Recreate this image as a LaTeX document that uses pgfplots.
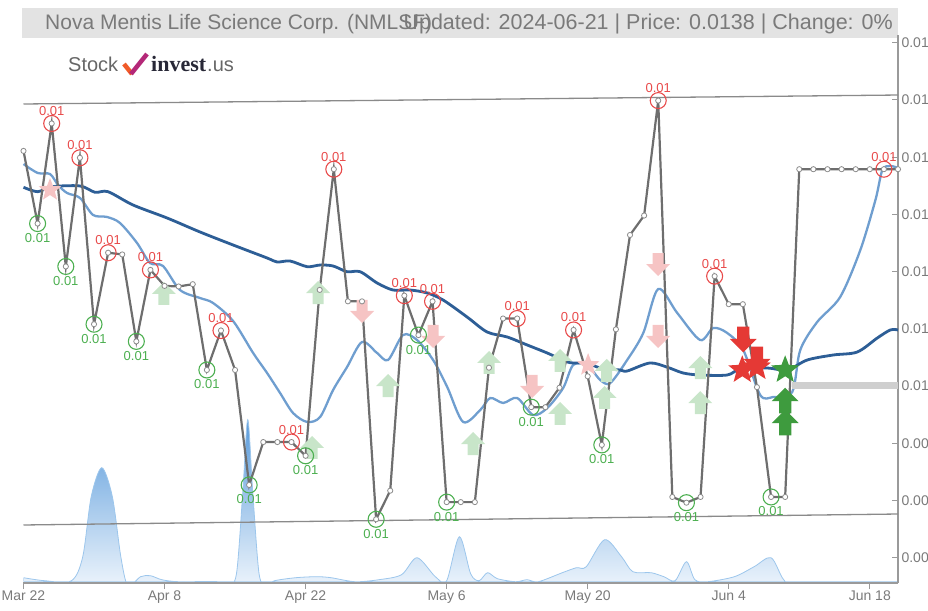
\documentclass[border=0pt]{standalone}
\usepackage{pgfplots}
\pgfplotsset{compat=1.18}
\usepackage{fontspec}
\setmainfont{Liberation Sans}
\newfontfamily\serifb{Liberation Serif}

\definecolor{pricec}{HTML}{6E6E6E}
\definecolor{madark}{HTML}{2D5E96}
\definecolor{malight}{HTML}{6F9ECF}
\definecolor{trendc}{HTML}{8A8A8A}
\definecolor{volline}{HTML}{9CC6EC}
\definecolor{voltop}{HTML}{5A9BDB}
\definecolor{volbot}{HTML}{EEF5FC}
\definecolor{redc}{HTML}{E84A4A}
\definecolor{greenc}{HTML}{4CAF50}
\definecolor{fadegreen}{HTML}{C8E5C9}
\definecolor{fadered}{HTML}{F6C4C4}
\definecolor{boldred}{HTML}{E53935}
\definecolor{boldgreen}{HTML}{3E9B3E}
\definecolor{axisc}{HTML}{9A9A9A}
\definecolor{labc}{HTML}{7A7A7A}
\definecolor{titlec}{HTML}{7A7A7A}
\definecolor{barc}{HTML}{E3E3E3}
\definecolor{gbar}{HTML}{CFCFCF}

\pgfdeclareplotmark{uparr}{%
 \pgfpathmoveto{\pgfqpoint{0pt}{11pt}}%
 \pgfpathlineto{\pgfqpoint{12pt}{-1pt}}%
 \pgfpathlineto{\pgfqpoint{5.5pt}{-1pt}}%
 \pgfpathlineto{\pgfqpoint{5.5pt}{-12pt}}%
 \pgfpathlineto{\pgfqpoint{-5.5pt}{-12pt}}%
 \pgfpathlineto{\pgfqpoint{-5.5pt}{-1pt}}%
 \pgfpathlineto{\pgfqpoint{-12pt}{-1pt}}%
 \pgfpathclose\pgfusepathqfill}
\pgfdeclareplotmark{dnarr}{%
 \pgfpathmoveto{\pgfqpoint{0pt}{-11pt}}%
 \pgfpathlineto{\pgfqpoint{12pt}{1pt}}%
 \pgfpathlineto{\pgfqpoint{5.5pt}{1pt}}%
 \pgfpathlineto{\pgfqpoint{5.5pt}{12pt}}%
 \pgfpathlineto{\pgfqpoint{-5.5pt}{12pt}}%
 \pgfpathlineto{\pgfqpoint{-5.5pt}{1pt}}%
 \pgfpathlineto{\pgfqpoint{-12pt}{1pt}}%
 \pgfpathclose\pgfusepathqfill}
\pgfdeclareplotmark{fstar}{%
 \pgfpathmoveto{\pgfpointpolar{90}{14pt}}%
 \pgfpathlineto{\pgfpointpolar{126}{6pt}}%
 \pgfpathlineto{\pgfpointpolar{162}{14pt}}%
 \pgfpathlineto{\pgfpointpolar{198}{6pt}}%
 \pgfpathlineto{\pgfpointpolar{234}{14pt}}%
 \pgfpathlineto{\pgfpointpolar{270}{6pt}}%
 \pgfpathlineto{\pgfpointpolar{306}{14pt}}%
 \pgfpathlineto{\pgfpointpolar{342}{6pt}}%
 \pgfpathlineto{\pgfpointpolar{18}{14pt}}%
 \pgfpathlineto{\pgfpointpolar{54}{6pt}}%
 \pgfpathclose\pgfusepathqfill}

\begin{document}
\begin{tikzpicture}
% title bar
\fill[barc] (22pt,572pt) rectangle (898pt,602pt);
\node[anchor=base west, inner sep=0pt, text=titlec, font=\fontsize{21}{24}\selectfont] at (45pt,580pt) {Nova Mentis Life Science Corp. (NMLSF)};
\node[anchor=base east, inner sep=0pt, text=titlec, font=\fontsize{21.5}{24}\selectfont] at (893pt,580pt) {Updated: 2024-06-21 | Price: 0.0138 | Change: 0\%};
% logo
\node[anchor=base west, inner sep=0pt, text=black!60, font=\fontsize{20}{22}\selectfont] at (68pt,538pt) {Stock};
\draw[line width=4.5pt, color={rgb,255:red,240;green,90;blue,40}] (124pt,546pt) -- (132pt,536pt);
\draw[line width=4.5pt, color={rgb,255:red,180;green,40;blue,120}] (131pt,536pt) -- (147pt,556pt);
\node[anchor=base west, inner sep=0pt, text={rgb,255:red,40;green,40;blue,55}, font=\serifb\bfseries\fontsize{22}{24}\selectfont] at (151pt,538pt) {invest};
\node[anchor=base west, inner sep=0pt, text=black!60, font=\fontsize{20}{22}\selectfont] at (207pt,538pt) {.us};

% volume
\begin{axis}[at={(23.5pt,27pt)}, anchor=south west, scale only axis,
 width=874.5pt, height=548pt, xmin=0, xmax=62, ymin=-1.3, ymax=546.7, hide axis]
\addplot[smooth, draw=volline, line width=0.8pt, top color=voltop, bottom color=volbot] coordinates {
(0,4) (1.5,1) (3.4,1) (4.2,25) (4.8,85) (5.55,114) (6.3,85) (6.9,25) (7.4,-4) (8.3,5) (9.0,6) (9.8,2) (11,0)
(13.8,0) (14.5,-4) (15.1,8) (15.55,90) (15.9,162) (16.25,90) (16.7,8) (17.2,-3) (17.8,1) (19.3,4) (20.8,5)
(21.8,4) (23.5,0) (25.2,2) (26.8,7) (27.9,24) (29.2,5) (30.0,1) (30.9,45) (31.7,8) (32.3,1) (32.9,9) (33.6,3)
(34.9,0) (35.7,2) (36.5,0) (38.2,9) (39.2,14) (39.9,15) (41.2,42) (42.4,25) (43.2,10) (44.5,9) (45.4,5)
(46.2,1) (47,20) (47.6,2) (48.5,0) (50.4,5) (51.8,15) (53,24) (53.9,2) (54.8,0) (62,0)} \closedcycle;
\end{axis}

\begin{axis}[at={(23.5pt,27pt)}, anchor=south west, scale only axis,
 width=874.5pt, height=548pt, xmin=0, xmax=62, ymin=0.0065559, ymax=0.0161364,
 clip=false, scaled y ticks=false,
 axis x line*=bottom, axis y line*=right,
 axis line style={axisc, line width=1.3pt},
 tick align=inside, major tick length=6pt,
 tick style={axisc, line width=1pt},
 xtick style={yshift=-6pt},
 xtick={0,10,20,30,40,50,60},
 xticklabels={Mar 22,Apr 8,Apr 22,May 6,May 20,Jun 4,Jun 18},
 ytick={0.007,0.008,0.009,0.010,0.011,0.012,0.013,0.014,0.015,0.016},
 yticklabels={0.007,0.008,0.009,0.010,0.011,0.012,0.013,0.014,0.015,0.016},
 tick label style={font=\fontsize{14}{16}\selectfont, text=labc},
 xticklabel style={yshift=-4pt},
]
% trend lines
\addplot[trendc, line width=1.3pt] coordinates {(0,0.014930) (62,0.015087)};
\addplot[trendc, line width=1.3pt] coordinates {(0,0.007570) (62,0.007762)};
% faded signals
\addplot[only marks, mark=uparr, color=fadegreen] coordinates {
(9.96,0.011626) (20.89,0.011643) (20.46,0.008934) (25.85,0.010017) (31.88,0.009003) (33.01,0.010420)
(38.05,0.009528) (38.05,0.010455) (41.2,0.009808) (41.35,0.010280) (47.98,0.010332) (47.98,0.009720)};
\addplot[only marks, mark=dnarr, color=fadered] coordinates {
(24.0,0.011294) (29.04,0.010857) (36.06,0.009983) (45.0,0.012115) (45.0,0.010857)};
\addplot[only marks, mark=fstar, color=fadered, mark options={scale=0.85}] coordinates {
(1.88,0.013427) (40.03,0.010367)};
% moving averages
\addplot[malight, line width=2.3pt, smooth] coordinates {
(0,0.013881) (1.01,0.013724) (1.88,0.013706) (2.45,0.013514) (3.09,0.013374) (4.01,0.013287) (4.93,0.012990)
(5.92,0.012955) (6.84,0.012850) (8.05,0.012500) (8.97,0.012150) (9.89,0.012098) (11.1,0.011678) (12.52,0.011538)
(13.44,0.011451) (14.86,0.011136) (16.28,0.010577) (17.27,0.010227) (18.19,0.009878) (19.11,0.009528)
(20.11,0.009371) (21.03,0.009458) (21.95,0.009930) (22.94,0.010332) (24.0,0.010769) (25.07,0.010577)
(25.85,0.010455) (26.91,0.010892) (27.9,0.010804) (29.04,0.010455) (30.04,0.009983) (31.17,0.009371)
(32.38,0.009580) (33.09,0.009790) (34.01,0.009703) (35.0,0.009790) (36.13,0.009493) (37.13,0.009615)
(38.26,0.009965) (38.97,0.010367) (39.96,0.010367) (40.89,0.010105) (41.6,0.010052) (42.8,0.010455)
(43.94,0.010927) (45.0,0.011696) (46.35,0.011276) (47.97,0.010804) (48.9,0.011014) (49.89,0.010927)
(51.03,0.010629) (52.23,0.009843) (53.16,0.009808) (54.5,0.009895) (55.07,0.010629) (56.27,0.011119)
(57.9,0.011556) (59.33,0.012378) (60.4,0.013252) (60.89,0.013776) (61.45,0.013846) (62,0.013811)};
\addplot[madark, line width=2.8pt, smooth] coordinates {
(0,0.013474) (1.01,0.013397) (2.0,0.013484) (4.01,0.013497) (5.07,0.013386) (5.99,0.013397) (7.77,0.013164)
(10.18,0.012937) (12.52,0.012692) (14.86,0.012465) (17.27,0.012238) (17.98,0.012168) (18.9,0.012185)
(20.11,0.012086) (21.03,0.012115) (21.95,0.012098) (22.94,0.011998) (23.87,0.011998) (25.07,0.011801)
(26.2,0.011678) (27.41,0.011678) (28.62,0.011626) (29.75,0.011503) (31.45,0.011206) (32.87,0.010944)
(34.29,0.010857) (35.71,0.010717) (37.13,0.010577) (38.55,0.010420) (39.26,0.010402) (39.96,0.010402)
(40.89,0.010315) (42.3,0.010280) (42.8,0.010262) (44.4,0.010402) (45.6,0.010332) (46.77,0.010227)
(47.97,0.010192) (49.89,0.010192) (50.82,0.010297) (52.73,0.010315) (54.15,0.010280) (55.57,0.010455)
(57.41,0.010542) (59.11,0.010594) (60.53,0.010839) (61.45,0.010979) (62,0.010979)};
% grey bar
\addplot[gbar, line width=7pt] coordinates {(54.5,0.0100) (62,0.0100)};
% price
\addplot[pricec, line width=2.2pt, mark=*, mark size=2.6pt, mark options={fill=white, draw=black!45, line width=0.8pt}] coordinates {
(0,0.01411) (1,0.01284) (2,0.01459) (3,0.01209) (4,0.01399) (5,0.01108) (6,0.01233) (7,0.01230) (8,0.01078)
(9,0.01203) (10,0.01175) (11,0.01174) (12,0.01178) (13,0.01028) (14,0.01097) (15,0.01028) (16,0.00827)
(17,0.00902) (18,0.00902) (19,0.00902) (20,0.00878) (21,0.01168) (22,0.01379) (23,0.01148) (24,0.01148)
(25,0.00767) (26,0.00817) (27,0.01158) (28,0.01089) (29,0.01148) (30,0.00797) (31,0.00797) (32,0.00797)
(33,0.01032) (34,0.01118) (35,0.01118) (36,0.00963) (37,0.00963) (38,0.00997) (39,0.01098) (40,0.01017)
(41,0.00897) (42,0.01099) (43,0.01264) (44,0.01298) (45,0.01499) (46,0.00806) (47,0.00796) (48,0.00806)
(49,0.01192) (50,0.01143) (51,0.01143) (52,0.00998) (53,0.00806) (54,0.00806) (55,0.01379) (56,0.01379)
(57,0.01379) (58,0.01379) (59,0.01379) (60,0.01379) (61,0.01379) (62,0.01379)};
% highs
\addplot[only marks, mark=o, mark size=8pt, mark options={draw=redc, line width=1.1pt},
 nodes near coords={0.01}, every node near coord/.append style={anchor=center, yshift=12.5pt, text=redc, font=\fontsize{13}{14}\selectfont}] coordinates {
(2,0.01459) (4,0.01399) (6,0.01233) (9,0.01203) (14,0.01097) (19,0.00902) (22,0.01379) (27,0.01158)
(29,0.01148) (35,0.01118) (39,0.01098) (45,0.01499) (49,0.01192) (61,0.01379)};
% lows
\addplot[only marks, mark=o, mark size=8pt, mark options={draw=greenc, line width=1.1pt},
 nodes near coords={0.01}, every node near coord/.append style={anchor=center, yshift=-14.5pt, text=greenc, font=\fontsize{13}{14}\selectfont}] coordinates {
(1,0.01284) (3,0.01209) (5,0.01108) (8,0.01078) (13,0.01028) (16,0.00827) (20,0.00878) (25,0.00767)
(28,0.01089) (30,0.00797) (36,0.00963) (41,0.00897) (47,0.00796) (53,0.00806)};
% bold signals
\addplot[only marks, mark=dnarr, color=boldred, mark options={scale=1.12}] coordinates {(51.03,0.010804) (52.0,0.010455)};
\addplot[only marks, mark=fstar, color=boldred, mark options={scale=1.05}] coordinates {(50.96,0.010280) (52.0,0.010330)};
\addplot[only marks, mark=fstar, color=boldgreen, mark options={scale=1.05}] coordinates {(54.0,0.010280)};
\addplot[only marks, mark=uparr, color=boldgreen, mark options={scale=1.12}] coordinates {(54.0,0.009755) (54.0,0.009371)};
\end{axis}
\pgfresetboundingbox
\useasboundingbox (0pt,0pt) rectangle (928pt,610pt);
\end{tikzpicture}
\end{document}
